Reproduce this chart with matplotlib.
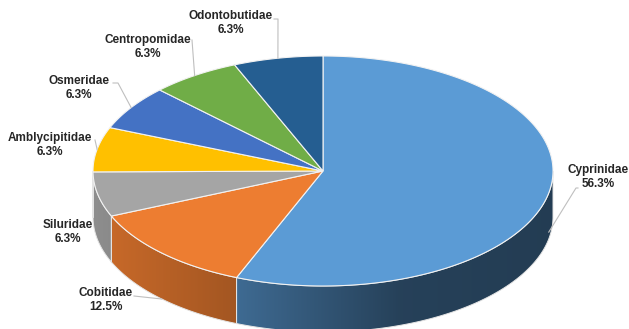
import numpy as np
import matplotlib
matplotlib.use("Agg")
import matplotlib.pyplot as plt
from matplotlib.patches import Polygon
from matplotlib.colors import to_rgb

# Fish families and their share of species (%)
families = ["Cyprinidae", "Cobitidae", "Siluridae", "Amblycipitidae",
            "Osmeridae", "Centropomidae", "Odontobutidae"]
shares = [56.3, 12.5, 6.3, 6.3, 6.3, 6.3, 6.3]
colors = ["#5B9BD5", "#ED7D31", "#A5A5A5", "#FFC000",
          "#4472C4", "#70AD47", "#255E91"]

# Label block centres (pixel coords) and leader-line start / knee points
label_pos = [(598, 177), (106, 300), (68, 232), (50, 145),
             (79, 88), (148, 47), (231, 23)]
leader_start = [(578, 188), (134, 296), None, (95, 140),
                (113, 83), (192, 40), (274, 19)]
leader_knee = [(576, 188), None, None, None,
               (118, 83), None, (278, 19)]
leader_drop = [0.85, 1.0, 0, 0, 0, 0, 0]   # fraction of depth for target

W, H = 629, 329
cx, cy, rx, ry, depth = 323, 171, 230, 115, 46

fig = plt.figure(figsize=(W / 100, H / 100), dpi=100)
ax = fig.add_axes([0, 0, 1, 1])
ax.axis("off")


def pt(theta, dy=0.0):
    t = np.radians(theta)
    return cx + rx * np.cos(t), cy - ry * np.sin(t) + dy


def arc(a, b, dy=0.0, n=None):
    if n is None:
        n = max(int(abs(b - a) * 2), 2)
    th = np.linspace(a, b, n)
    t = np.radians(th)
    return np.column_stack([cx + rx * np.cos(t), cy - ry * np.sin(t) + dy])


total = float(sum(shares))
fracs = np.array(shares) / total
cum = np.concatenate([[0], np.cumsum(fracs)])
starts = 90 - 360 * cum[:-1]
ends = 90 - 360 * cum[1:]

# horizontal shading of the side wall
xs = np.arange(W) + 0.5
shade = np.interp(xs, [93, 235, 400, 560], [0.86, 0.69, 0.42, 0.39])

# side walls (front half only: angles between -180 and 0)
for s, e, c in zip(starts, ends, colors):
    a, b = min(s, 0), max(e, -180)
    if a <= b:
        continue
    top = arc(a, b)
    bot = arc(b, a, dy=depth)
    poly = np.vstack([top, bot])
    patch = Polygon(poly, closed=True, facecolor="none",
                    edgecolor="none", zorder=1)
    ax.add_patch(patch)
    rgb = np.array(to_rgb(c))
    img = (shade[:, None] * rgb[None, :])[None, :, :]
    im = ax.imshow(img, extent=[0, W, H, 0], aspect="auto",
                   interpolation="bilinear", zorder=1)
    im.set_clip_path(patch)
    ax.add_patch(Polygon(poly, closed=True, facecolor="none",
                         edgecolor="#E4E4E4", linewidth=0.7, zorder=2))

# top faces
for s, e, c in zip(starts, ends, colors):
    poly = np.vstack([[cx, cy], arc(s, e), [cx, cy]])
    ax.add_patch(Polygon(poly, closed=True, facecolor=c,
                         edgecolor="#F2F2F2", linewidth=0.8, zorder=3))

# labels and leader lines
for i, (name, v) in enumerate(zip(families, shares)):
    lx, ly = label_pos[i]
    ax.text(lx, ly, f"{name}\n{v:.1f}%", ha="center", va="center",
            fontsize=8.5, fontweight="bold", family="Liberation Sans",
            color="#262626", linespacing=1.2, zorder=5)
    if leader_start[i] is None:
        continue
    mid = (starts[i] + ends[i]) / 2
    tx, ty = pt(mid, depth * leader_drop[i])
    pts = [leader_start[i]]
    if leader_knee[i] is not None:
        pts.append(leader_knee[i])
    pts.append((tx, ty))
    pts = np.array(pts)
    ax.plot(pts[:, 0], pts[:, 1], color="#BFBFBF", linewidth=0.8, zorder=4)

ax.set_xlim(0, W)
ax.set_ylim(H, 0)
fig.savefig("out.png", dpi=100, facecolor="white")
